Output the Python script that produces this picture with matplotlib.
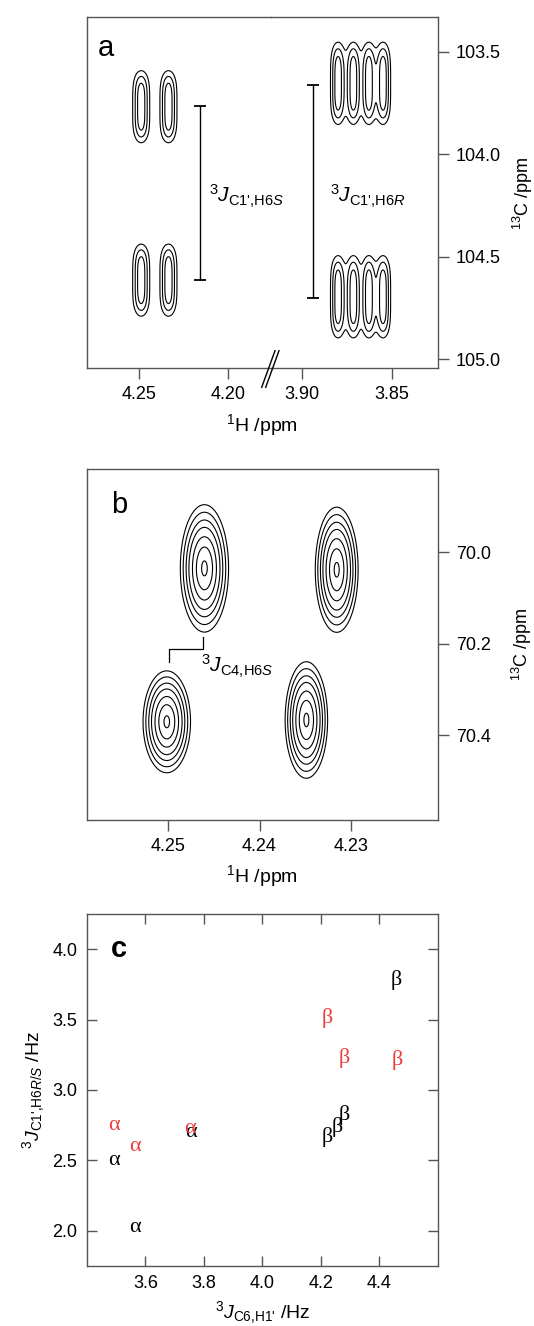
import numpy as np
import matplotlib
matplotlib.use("Agg")
import matplotlib.pyplot as plt
from matplotlib.lines import Line2D

plt.rcParams['font.family'] = 'Liberation Sans'
plt.rcParams['mathtext.fontset'] = 'custom'
plt.rcParams['mathtext.rm'] = 'Liberation Sans'
plt.rcParams['mathtext.it'] = 'Liberation Sans:italic'
plt.rcParams['mathtext.bf'] = 'Liberation Sans:bold'

FRAME = '#555555'
RED = '#ee3b3b'

# --- panel a: C1'/H6 multiplets (ppm) ---
a_h6s_x = [4.2487, 4.2335]
a_h6s_y = [103.768, 104.614]
a_h6r_x = [3.8798, 3.8713, 3.8627, 3.8548]
a_h6r_y = [103.654, 104.695]
a_h6s_shape = (0.00265, 0.156)   # sigma 1H, half height 13C
a_h6r_shape = (0.00235, 0.178)
a_levels = [0.2, 0.45, 0.75]
a_xticks_left = [4.25, 4.20]
a_xticks_right = [3.90, 3.85]
a_yticks = [103.5, 104.0, 104.5, 105.0]
a_bar_h6s = (4.2161, 103.763, 104.614)
a_bar_h6r = (3.8937, 103.663, 104.700)

# --- panel b: C4/H6 peaks ---
b_peak_x = [4.2460, 4.2316, 4.2501, 4.2349]
b_peak_y = [70.035, 70.038, 70.371, 70.367]
b_sig_x = [0.00125, 0.00111, 0.00123, 0.00110]
b_sig_y = [0.0664, 0.0652, 0.0531, 0.0607]
b_levels = [0.11, 0.18, 0.28, 0.40, 0.58, 0.78, 0.97]
b_xticks = [4.25, 4.24, 4.23]
b_yticks = [70.0, 70.2, 70.4]
b_bracket_x = [4.2499, 4.2499, 4.2462, 4.2462]
b_bracket_y = [70.239, 70.212, 70.212, 70.185]

# --- panel c: coupling constants (Hz) ---
c_alpha_black_x = [3.491, 3.564, 3.755]
c_alpha_black_y = [2.501, 2.021, 2.698]
c_alpha_red_x = [3.491, 3.564, 3.752]
c_alpha_red_y = [2.746, 2.596, 2.727]
c_beta_black_x = [4.457, 4.221, 4.258, 4.282]
c_beta_black_y = [3.784, 2.667, 2.734, 2.822]
c_beta_red_x = [4.221, 4.279, 4.460]
c_beta_red_y = [3.511, 3.226, 3.214]
c_xticks = [3.6, 3.8, 4.0, 4.2, 4.4]
c_yticks = [2.0, 2.5, 3.0, 3.5, 4.0]


def style_frame(ax):
    for s in ax.spines.values():
        s.set_color(FRAME)
        s.set_linewidth(1.0)


def multiplet_field(ax, xs, ys, shape):
    x0, x1 = ax.get_xlim()
    y0, y1 = ax.get_ylim()
    X, Y = np.meshgrid(np.linspace(x0, x1, 500), np.linspace(y0, y1, 500))
    Z = np.zeros_like(X)
    for px in xs:
        for py in ys:
            Z += np.exp(-(X - px) ** 2 / (2 * shape[0] ** 2)) * np.exp(-((Y - py) / shape[1]) ** 4)
    return X, Y, Z


fig = plt.figure(figsize=(5.34, 13.26), dpi=100)

# ================= panel a (broken 1H axis) =================
ax_al = fig.add_axes([0.1627, 0.72225, 0.5071 - 0.1627, 0.2647])
ax_ar = fig.add_axes([0.5071, 0.72225, 0.8197 - 0.5071, 0.2647])
ax_ar.patch.set_alpha(0)   # keep the H6S label of the left half visible
ax_al.set_xlim(4.279, 4.1764)
ax_ar.set_xlim(3.9172, 3.8244)
for ax in (ax_al, ax_ar):
    ax.set_ylim(105.044, 103.332)
    style_frame(ax)
ax_al.spines['right'].set_visible(False)
ax_ar.spines['left'].set_visible(False)

X, Y, Z = multiplet_field(ax_al, a_h6s_x, a_h6s_y, a_h6s_shape)
ax_al.contour(X, Y, Z, levels=a_levels, colors='k', linewidths=0.8)
X, Y, Z = multiplet_field(ax_ar, a_h6r_x, a_h6r_y, a_h6r_shape)
ax_ar.contour(X, Y, Z, levels=a_levels, colors='k', linewidths=0.8)

for ax, bar in ((ax_al, a_bar_h6s), (ax_ar, a_bar_h6r)):
    mid = (bar[1] + bar[2]) / 2
    ax.errorbar([bar[0]], [mid], yerr=[(bar[2] - bar[1]) / 2], fmt='none',
                ecolor='k', elinewidth=1.0, capsize=4.2, capthick=1.3)

ax_al.text(4.2108, 104.207, r"$^{3}\mathit{J}_{\text{C1',H6}\mathit{S}}$",
           fontsize=15, ha='left', va='center')
ax_ar.text(3.8842, 104.207, r"$^{3}\mathit{J}_{\text{C1',H6}\mathit{R}}$",
           fontsize=15, ha='left', va='center')

ax_al.set_xticks(a_xticks_left)
ax_al.set_xticklabels([f"{v:.2f}" for v in a_xticks_left])
ax_ar.set_xticks(a_xticks_right)
ax_ar.set_xticklabels([f"{v:.2f}" for v in a_xticks_right])
ax_al.set_yticks([])
ax_ar.yaxis.tick_right()
ax_ar.set_yticks(a_yticks)
ax_ar.set_yticklabels([f"{v:.1f}" for v in a_yticks])
for ax in (ax_al, ax_ar):
    ax.tick_params(direction='out', length=8, width=1.0, color=FRAME,
                   labelsize=13, pad=5)
ax_ar.yaxis.set_label_position('right')
ax_ar.set_ylabel(r"$^{13}$C /ppm", fontsize=13, labelpad=7)
fig.text(0.4912, 1 - 425 / 1326, r"$^{1}$H /ppm", fontsize=14,
         ha='center', va='center')
ax_al.text(0.061, 0.8897, 'a', transform=ax_al.transAxes, fontsize=21,
           ha='left', va='baseline')

# break marks on the 1H axis
for dx in (0.0, 4.0):
    fig.add_artist(Line2D([(261.7 + dx) / 534, (275.0 + dx) / 534],
                          [1 - 387.3 / 1326, 1 - 350.7 / 1326],
                          transform=fig.transFigure, color='k', lw=1.0))

# ================= panel b =================
ax_b = fig.add_axes([0.1627, 0.38160, 0.8197 - 0.1627, 0.26448])
ax_b.set_xlim(4.2588, 4.2206)
ax_b.set_ylim(70.586, 69.818)
style_frame(ax_b)
x0, x1 = ax_b.get_xlim()
y0, y1 = ax_b.get_ylim()
X, Y = np.meshgrid(np.linspace(x0, x1, 500), np.linspace(y0, y1, 500))
for px, py, sx, sy in zip(b_peak_x, b_peak_y, b_sig_x, b_sig_y):
    Z = np.exp(-(X - px) ** 2 / (2 * sx ** 2) - (Y - py) ** 2 / (2 * sy ** 2))
    ax_b.contour(X, Y, Z, levels=b_levels, colors='k', linewidths=0.8)
ax_b.plot(b_bracket_x, b_bracket_y, color='k', lw=0.9)
ax_b.text(4.2464, 70.25, r"$^{3}\mathit{J}_{\text{C4,H6}\mathit{S}}$",
          fontsize=15, ha='left', va='center')
ax_b.set_xticks(b_xticks)
ax_b.set_xticklabels([f"{v:.2f}" for v in b_xticks])
ax_b.yaxis.tick_right()
ax_b.set_yticks(b_yticks)
ax_b.set_yticklabels([f"{v:.1f}" for v in b_yticks])
ax_b.tick_params(direction='out', length=8, width=1.0, color=FRAME,
                 labelsize=13, pad=5)
ax_b.yaxis.set_label_position('right')
ax_b.set_ylabel(r"$^{13}$C /ppm", fontsize=13, labelpad=14)
ax_b.set_xlabel(r"$^{1}$H /ppm", fontsize=14, labelpad=6)
ax_b.text(0.068, 0.8745, 'b', transform=ax_b.transAxes, fontsize=21,
          ha='left', va='baseline')

# ================= panel c =================
ax_c = fig.add_axes([0.1627, 0.04548, 0.8197 - 0.1627, 0.2650])
ax_c.set_xlim(3.4, 4.6)
ax_c.set_ylim(1.75, 4.25)
style_frame(ax_c)
for xs, ys, sym, col in ((c_alpha_black_x, c_alpha_black_y, 'α', 'k'),
                         (c_alpha_red_x, c_alpha_red_y, 'α', RED),
                         (c_beta_black_x, c_beta_black_y, 'β', 'k'),
                         (c_beta_red_x, c_beta_red_y, 'β', RED)):
    for x, y in zip(xs, ys):
        ax_c.text(x, y, sym, color=col, fontsize=16, family='Liberation Serif',
                  ha='center', va='center')
ax_c.set_xticks(c_xticks)
ax_c.set_xticklabels([f"{v:.1f}" for v in c_xticks])
ax_c.set_yticks(c_yticks)
ax_c.set_yticklabels([f"{v:.1f}" for v in c_yticks])
ax_c.tick_params(direction='in', top=True, right=True, length=7, width=1.0,
                 color=FRAME, labelsize=13, pad=7)
ax_c.set_xlabel(r"$^{3}\mathit{J}_{\text{C6,H1'}}$ /Hz", fontsize=14, labelpad=5)
ax_c.set_ylabel(r"$^{3}\mathit{J}_{\text{C1',H6}\mathit{R/S}}$ /Hz", fontsize=14,
                labelpad=4)
ax_c.text(0.0687, 0.879, 'c', transform=ax_c.transAxes, fontsize=21,
          fontweight='bold', ha='left', va='baseline')

fig.savefig('out.png', dpi=100)
